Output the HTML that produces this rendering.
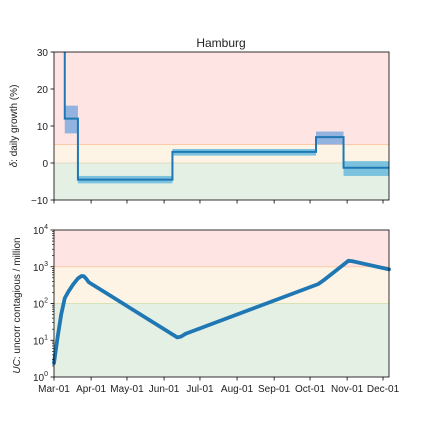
<!DOCTYPE html>
<html><head><meta charset="utf-8"><style>
body{margin:0;background:#fff;width:432px;height:432px;overflow:hidden}
svg text{font-family:"Liberation Sans",sans-serif;fill:#222}
</style></head><body>
<svg id="c" width="432" height="432" xmlns="http://www.w3.org/2000/svg"></svg>
<script>
const monthLabels=["Mar-01","Apr-01","May-01","Jun-01","Jul-01","Aug-01","Sep-01","Oct-01","Nov-01","Dec-01"];
const monthDays=[0,31,61,92,122,153,184,214,245,275];
const stepStarts=[9,20,99,219,242];
const stepEnds=[20,99,219,242,280];
const stepValues=[12,-4.5,3,7,-1.3];
const bandLow=[8,-5.5,2,5,-3.5];
const bandHigh=[15.5,-3.5,3.8,8.5,0.5];
const initialValue=30;
const ucDays=[0,3,6,9,12,16,20,23,25,27,29,103,106,110,221,225,246,249,280];
const ucValues=[2.4,12,50,140,210,330,480,560,550,470,380,12,12.5,15,340,420,1450,1420,850];
const deltaTicks=[-10,0,10,20,30];
const ucTicks=[0,1,2,3,4];

const NS="http://www.w3.org/2000/svg";
const svg=document.getElementById('c');
function el(t,a,p){const e=document.createElementNS(NS,t);for(const k in a)e.setAttribute(k,a[k]);(p||svg).appendChild(e);return e;}
const X0=54,X1=389,D0=0,D1=280;
const x=d=>X0+(d-D0)*(X1-X0)/(D1-D0);
const T0=52,T1=200,yT=v=>T0+(30-v)*(T1-T0)/40;
const B0=230,B1=377,yB=v=>B1-Math.log10(v)*(B1-B0)/4;

let t=el('text',{x:221,y:47,'font-size':12,'text-anchor':'middle'});t.textContent='Hamburg';


let g=el('g',{});
el('rect',{x:X0,y:T0,width:X1-X0,height:yT(5)-T0,fill:'#ffe4e4'},g);
el('rect',{x:X0,y:yT(5),width:X1-X0,height:yT(0)-yT(5),fill:'#fdf4e5'},g);
el('rect',{x:X0,y:yT(0),width:X1-X0,height:T1-yT(0),fill:'#e5f0e4'},g);
el('line',{x1:X0,x2:X1,y1:yT(5),y2:yT(5),stroke:'#fcc9a8','stroke-width':1},g);
el('line',{x1:X0,x2:X1,y1:yT(0),y2:yT(0),stroke:'#e0dcc0','stroke-width':1},g);
for(let i=0;i<stepValues.length;i++){
  const r=el('rect',{x:x(stepStarts[i]),y:yT(bandHigh[i]),width:x(stepEnds[i])-x(stepStarts[i]),height:yT(bandLow[i])-yT(bandHigh[i]),fill:(bandLow[i]>=5||bandHigh[i]>10)?'#92b3df':'#7ac2de'},g);
  
}
let d=`M${x(stepStarts[0])},${T0} L${x(stepStarts[0])},${yT(Math.min(initialValue,30))}`;
for(let i=0;i<stepValues.length;i++){d+=` L${x(stepStarts[i])},${yT(stepValues[i])} L${x(stepEnds[i])},${yT(stepValues[i])}`;}
let p=el('path',{d:d,fill:'none',stroke:'#1f77b4','stroke-width':2},g);

el('rect',{x:X0,y:T0,width:X1-X0,height:T1-T0,fill:'none',stroke:'#000','stroke-width':0.8},g);
deltaTicks.forEach(v=>{el('line',{x1:X0-3.5,x2:X0,y1:yT(v),y2:yT(v),stroke:'#000','stroke-width':0.8},g);
 const tt=el('text',{x:X0-6,y:yT(v)+4,'font-size':10,'text-anchor':'end'},g);tt.textContent=v<0?'\u2212'+(-v):v;
 });
monthDays.forEach(m=>el('line',{x1:x(m),x2:x(m),y1:T1,y2:T1+3.5,stroke:'#000','stroke-width':0.8},g));
t=el('text',{transform:`translate(17,${(T0+T1)/2}) rotate(-90)`,'font-size':10,'text-anchor':'middle'},g);
t.innerHTML='<tspan font-style="italic">δ</tspan>: daily growth (%)';


g=el('g',{});
el('rect',{x:X0,y:B0,width:X1-X0,height:yB(1000)-B0,fill:'#ffe4e4'},g);
el('rect',{x:X0,y:yB(1000),width:X1-X0,height:yB(100)-yB(1000),fill:'#fdf4e5'},g);
el('rect',{x:X0,y:yB(100),width:X1-X0,height:B1-yB(100),fill:'#e5f0e4'},g);
el('line',{x1:X0,x2:X1,y1:yB(1000),y2:yB(1000),stroke:'#fcc9a8','stroke-width':1},g);
el('line',{x1:X0,x2:X1,y1:yB(100),y2:yB(100),stroke:'#d6e2b8','stroke-width':1},g);
p=el('path',{d:ucDays.map((dd,i)=>(i?'L':'M')+x(dd)+','+yB(ucValues[i])).join(' '),fill:'none',stroke:'#1f77b4','stroke-width':3.8,'stroke-linejoin':'round','stroke-linecap':'round'},g);

el('rect',{x:X0,y:B0,width:X1-X0,height:B1-B0,fill:'none',stroke:'#000','stroke-width':0.8},g);
ucTicks.forEach(e=>{const yy=B1-e*(B1-B0)/4;
 el('line',{x1:X0-3.5,x2:X0,y1:yy,y2:yy,stroke:'#000','stroke-width':0.8},g);
 if(e<4)for(let k=2;k<10;k++){const ym=yB(Math.pow(10,e)*k);el('line',{x1:X0-2,x2:X0,y1:ym,y2:ym,stroke:'#000','stroke-width':0.6},g);}
 const tt=el('text',{x:X0-6,y:yy+4,'font-size':10,'text-anchor':'end'},g);
 tt.innerHTML='10<tspan dy="-5" font-size="7">'+e+'</tspan>';
 });
monthDays.forEach((m,i)=>{el('line',{x1:x(m),x2:x(m),y1:B1,y2:B1+3.5,stroke:'#000','stroke-width':0.8},g);
 const tt=el('text',{x:x(m),y:B1+15,'font-size':10,'text-anchor':'middle'},g);tt.textContent=monthLabels[i];
 });
t=el('text',{transform:`translate(20,${(B0+B1)/2+2}) rotate(-90)`,'font-size':10,'text-anchor':'middle'},g);
t.innerHTML='<tspan font-style="italic">UC</tspan>: uncorr contagious / million';

</script>
</body></html>
